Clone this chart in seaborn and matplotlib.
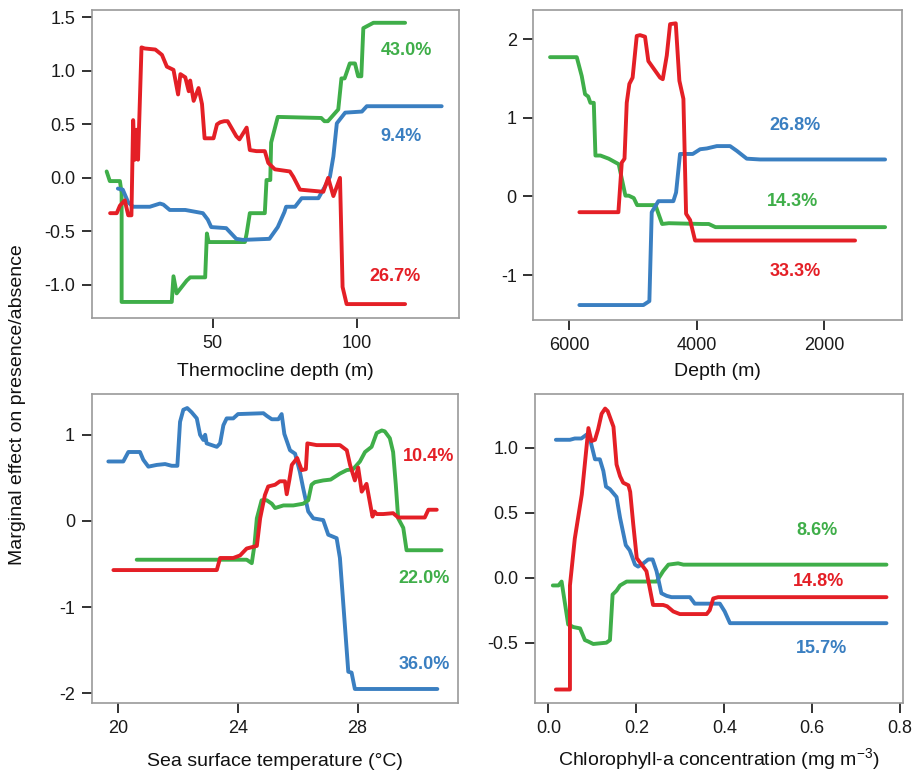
import numpy as np
import pandas as pd
import matplotlib
matplotlib.use("Agg")
import matplotlib.pyplot as plt
import seaborn as sns

# ---------------- data ----------------
# Panel 1: Thermocline depth (m)
thermo_green_x = [13.2, 14.3, 17.8, 18.4, 18.4, 35.8, 36.4, 37.5, 41.0, 42.2, 47.4, 48.0, 48.6, 61.2, 61.8, 62.9, 68.1, 68.7, 70.0, 70.3, 72.6, 87.7, 88.8, 90.0, 93.6, 94.7, 95.8, 97.6, 99.4, 100.5, 101.6, 102.3, 105.8, 116.8]
thermo_green_y = [0.06, -0.03, -0.03, -0.14, -1.16, -1.16, -0.92, -1.08, -0.96, -0.93, -0.93, -0.52, -0.60, -0.60, -0.52, -0.33, -0.33, -0.02, -0.02, 0.33, 0.57, 0.56, 0.53, 0.53, 0.64, 0.93, 0.93, 1.07, 1.07, 0.95, 0.95, 1.40, 1.45, 1.45]
thermo_blue_x = [17.1, 18.8, 20.7, 22.4, 28.2, 31.7, 32.9, 35.1, 40.5, 46.6, 48.3, 49.5, 54.7, 58.2, 60.5, 69.7, 72.6, 74.9, 75.5, 78.6, 80.9, 86.7, 89.0, 90.7, 91.9, 93.1, 96.0, 101.8, 103.5, 129.5]
thermo_blue_y = [-0.10, -0.11, -0.23, -0.27, -0.27, -0.24, -0.25, -0.30, -0.30, -0.33, -0.39, -0.46, -0.47, -0.57, -0.58, -0.57, -0.46, -0.32, -0.27, -0.27, -0.19, -0.19, -0.08, 0.01, 0.20, 0.51, 0.61, 0.62, 0.67, 0.67]
thermo_red_x = [14.4, 16.7, 17.8, 19.5, 20.7, 21.8, 22.4, 23.0, 23.6, 24.1, 25.3, 26.4, 30.1, 32.4, 34.1, 36.4, 38.0, 38.8, 40.5, 41.7, 42.2, 43.4, 45.1, 46.3, 47.2, 50.3, 51.5, 52.6, 54.0, 55.2, 58.2, 59.3, 61.8, 62.9, 65.2, 68.1, 69.3, 71.6, 76.8, 78.0, 80.3, 88.4, 90.1, 91.9, 94.2, 95.1, 96.5, 116.8]
thermo_red_y = [-0.33, -0.33, -0.26, -0.21, -0.35, -0.35, 0.54, 0.17, 0.45, 0.17, 1.22, 1.21, 1.20, 1.15, 1.04, 1.01, 0.78, 0.97, 0.94, 0.81, 0.91, 0.72, 0.84, 0.69, 0.37, 0.37, 0.50, 0.52, 0.53, 0.53, 0.39, 0.36, 0.47, 0.26, 0.25, 0.25, 0.14, 0.08, 0.06, 0.01, -0.11, -0.13, 0.00, -0.17, 0.00, -1.02, -1.18, -1.18]

# Panel 2: Depth (m)
depth_green_x = [6298, 5879, 5801, 5749, 5700, 5665, 5612, 5586, 5508, 5378, 5221, 5116, 5064, 4985, 4932, 4645, 4540, 4434, 3913, 3808, 3703, 1042]
depth_green_y = [1.77, 1.77, 1.53, 1.30, 1.27, 1.19, 1.19, 0.52, 0.52, 0.48, 0.41, 0.01, 0.01, -0.02, -0.11, -0.11, -0.35, -0.34, -0.35, -0.35, -0.39, -0.39]
depth_red_x = [5838, 5226, 5173, 5130, 5095, 5054, 5003, 4938, 4886, 4808, 4756, 4572, 4530, 4467, 4415, 4326, 4269, 4206, 4164, 4101, 4023, 3945, 1513]
depth_red_y = [-0.20, -0.20, 0.43, 0.48, 1.19, 1.43, 1.51, 2.04, 2.05, 2.03, 1.72, 1.51, 1.49, 1.79, 2.19, 2.20, 1.47, 1.24, -0.22, -0.30, -0.56, -0.56, -0.56]
depth_blue_x = [5838, 4834, 4740, 4703, 4599, 4364, 4321, 4259, 4059, 3944, 3839, 3682, 3474, 3369, 3212, 3003, 1042]
depth_blue_y = [-1.38, -1.38, -1.33, -0.20, -0.06, -0.06, 0.05, 0.54, 0.54, 0.60, 0.61, 0.64, 0.64, 0.58, 0.48, 0.47, 0.47]

# Panel 3: Sea surface temperature (°C)
sst_blue_x = [19.66, 20.16, 20.33, 20.72, 20.83, 21.00, 21.28, 21.56, 21.78, 21.97, 22.06, 22.17, 22.30, 22.45, 22.62, 22.73, 22.84, 22.90, 22.95, 23.12, 23.29, 23.40, 23.51, 23.62, 23.84, 24.00, 24.85, 24.96, 25.13, 25.35, 25.46, 25.55, 25.74, 25.91, 26.07, 26.18, 26.35, 26.52, 26.85, 27.02, 27.30, 27.41, 27.69, 27.80, 27.91, 30.67]
sst_blue_y = [0.69, 0.69, 0.80, 0.80, 0.71, 0.63, 0.65, 0.66, 0.64, 0.64, 1.15, 1.29, 1.31, 1.26, 1.19, 1.00, 0.94, 1.00, 0.90, 0.88, 0.86, 0.90, 1.11, 1.19, 1.19, 1.24, 1.25, 1.22, 1.18, 1.18, 1.24, 1.01, 0.82, 0.78, 0.57, 0.38, 0.11, 0.03, 0.01, -0.16, -0.20, -0.43, -1.75, -1.76, -1.95, -1.95]
sst_red_x = [19.83, 23.29, 23.40, 23.84, 24.07, 24.29, 24.51, 24.63, 24.74, 24.90, 25.01, 25.24, 25.40, 25.57, 25.63, 25.72, 25.80, 25.98, 26.13, 26.27, 26.32, 26.63, 27.41, 27.64, 27.75, 27.91, 28.02, 28.14, 28.30, 28.50, 28.57, 28.64, 28.86, 29.19, 29.36, 30.25, 30.37, 30.65]
sst_red_y = [-0.57, -0.57, -0.43, -0.43, -0.40, -0.32, -0.30, -0.29, 0.03, 0.30, 0.40, 0.42, 0.46, 0.46, 0.31, 0.48, 0.65, 0.73, 0.59, 0.60, 0.90, 0.88, 0.88, 0.82, 0.65, 0.47, 0.62, 0.34, 0.43, 0.05, 0.11, 0.08, 0.08, 0.09, 0.04, 0.04, 0.13, 0.13]
sst_green_x = [20.61, 24.29, 24.46, 24.55, 24.63, 24.79, 24.96, 25.13, 25.24, 25.52, 25.85, 26.18, 26.35, 26.46, 26.57, 26.85, 27.10, 27.41, 27.64, 27.85, 28.08, 28.25, 28.47, 28.64, 28.81, 28.91, 29.08, 29.19, 29.28, 29.36, 29.53, 29.64, 30.81]
sst_green_y = [-0.45, -0.45, -0.49, -0.28, 0.03, 0.24, 0.24, 0.20, 0.15, 0.18, 0.18, 0.20, 0.24, 0.42, 0.45, 0.47, 0.48, 0.55, 0.59, 0.60, 0.69, 0.80, 0.86, 1.02, 1.05, 1.04, 0.96, 0.80, 0.42, 0.03, -0.08, -0.34, -0.34]

# Panel 4: Chlorophyll-a concentration
chl_blue_x = [0.017, 0.049, 0.060, 0.075, 0.087, 0.095, 0.106, 0.117, 0.125, 0.131, 0.140, 0.155, 0.163, 0.176, 0.185, 0.197, 0.204, 0.216, 0.227, 0.237, 0.246, 0.257, 0.269, 0.280, 0.322, 0.333, 0.390, 0.401, 0.413, 0.769]
chl_blue_y = [1.06, 1.06, 1.07, 1.07, 1.10, 1.06, 0.91, 0.91, 0.82, 0.70, 0.68, 0.62, 0.46, 0.25, 0.21, 0.10, 0.085, 0.11, 0.14, 0.14, 0.05, -0.12, -0.14, -0.15, -0.15, -0.20, -0.20, -0.26, -0.35, -0.35]
chl_red_x = [0.017, 0.049, 0.049, 0.060, 0.076, 0.091, 0.098, 0.106, 0.113, 0.121, 0.129, 0.135, 0.148, 0.155, 0.163, 0.170, 0.182, 0.186, 0.193, 0.201, 0.212, 0.223, 0.238, 0.261, 0.270, 0.284, 0.299, 0.360, 0.367, 0.375, 0.386, 0.769]
chl_red_y = [-0.86, -0.86, -0.06, 0.30, 0.64, 1.15, 1.05, 1.06, 1.14, 1.26, 1.30, 1.28, 1.16, 0.87, 0.78, 0.73, 0.71, 0.66, 0.41, 0.15, 0.10, 0.05, -0.21, -0.21, -0.22, -0.26, -0.28, -0.28, -0.25, -0.16, -0.15, -0.15]
chl_green_x = [0.010, 0.023, 0.030, 0.045, 0.057, 0.072, 0.083, 0.090, 0.102, 0.132, 0.140, 0.146, 0.155, 0.163, 0.178, 0.200, 0.246, 0.261, 0.273, 0.295, 0.307, 0.769]
chl_green_y = [-0.06, -0.06, -0.03, -0.36, -0.38, -0.39, -0.48, -0.49, -0.51, -0.50, -0.48, -0.13, -0.10, -0.06, -0.03, -0.03, -0.03, 0.05, 0.10, 0.11, 0.10, 0.10]

# Percent labels
thermo_labels = ["43.0%", "9.4%", "26.7%"]
depth_labels = ["26.8%", "14.3%", "33.3%"]
sst_labels = ["10.4%", "22.0%", "36.0%"]
chl_labels = ["8.6%", "14.8%", "15.7%"]

x_titles = ["Thermocline depth (m)", "Depth (m)", "Sea surface temperature (°C)",
            "Chlorophyll-a concentration (mg m$^{-3}$)"]
y_title = "Marginal effect on presence/absence"

# ---------------- style ----------------
GREEN = "#3fae49"
BLUE = "#3a7fc1"
RED = "#e41f26"

sns.set_theme(style="white")
plt.rcParams["font.family"] = ["Liberation Sans", "DejaVu Sans"]
plt.rcParams["mathtext.fontset"] = "custom"
plt.rcParams["mathtext.rm"] = "Liberation Sans"

fig = plt.figure(figsize=(9.15, 7.72), dpi=100)

axes_rects = [
    [0.1005, 0.5881, 0.4011, 0.3990],
    [0.5829, 0.5855, 0.4026, 0.4016],
    [0.1001, 0.0890, 0.4004, 0.4003],
    [0.5847, 0.0890, 0.4019, 0.4003],
]
# baseline of each x title, in axes fraction
xlabel_y = [-0.188, -0.181, -0.203, -0.203]


def make_df(series):
    frames = []
    for name, xs, ys in series:
        frames.append(pd.DataFrame({"x": xs, "y": ys, "series": name,
                                    "order": np.arange(len(xs))}))
    return pd.concat(frames, ignore_index=True)


panels = [
    dict(series=[("green", thermo_green_x, thermo_green_y),
                 ("blue", thermo_blue_x, thermo_blue_y),
                 ("red", thermo_red_x, thermo_red_y)],
         xlim=(8.1, 135.5), ylim=(-1.31, 1.57),
         xticks=[50, 100], xtl=["50", "100"],
         yticks=[-1.0, -0.5, 0.0, 0.5, 1.0, 1.5], ytl=["-1.0", "-0.5", "0.0", "0.5", "1.0", "1.5"],
         labels=[(thermo_labels[0], GREEN, 0.857, 0.870),
                 (thermo_labels[1], BLUE, 0.841, 0.589),
                 (thermo_labels[2], RED, 0.826, 0.134)]),
    dict(series=[("green", depth_green_x, depth_green_y),
                 ("blue", depth_blue_x, depth_blue_y),
                 ("red", depth_red_x, depth_red_y)],
         xlim=(6560, 781), ylim=(-1.57, 2.37),
         xticks=[6000, 4000, 2000], xtl=["6000", "4000", "2000"],
         yticks=[-1, 0, 1, 2], ytl=["-1", "0", "1", "2"],
         labels=[(depth_labels[0], BLUE, 0.710, 0.626),
                 (depth_labels[1], GREEN, 0.704, 0.382),
                 (depth_labels[2], RED, 0.710, 0.156)]),
    dict(series=[("blue", sst_blue_x, sst_blue_y),
                 ("green", sst_green_x, sst_green_y),
                 ("red", sst_red_x, sst_red_y)],
         xlim=(19.10, 31.36), ylim=(-2.116, 1.47),
         xticks=[20, 24, 28], xtl=["20", "24", "28"],
         yticks=[-2, -1, 0, 1], ytl=["-2", "-1", "0", "1"],
         labels=[(sst_labels[0], RED, 0.921, 0.798),
                 (sst_labels[1], GREEN, 0.907, 0.404),
                 (sst_labels[2], BLUE, 0.907, 0.126)]),
    dict(series=[("green", chl_green_x, chl_green_y),
                 ("blue", chl_blue_x, chl_blue_y),
                 ("red", chl_red_x, chl_red_y)],
         xlim=(-0.0305, 0.806), ylim=(-0.966, 1.41),
         xticks=[0.0, 0.2, 0.4, 0.6, 0.8], xtl=["0.0", "0.2", "0.4", "0.6", "0.8"],
         yticks=[-0.5, 0.0, 0.5, 1.0], ytl=["-0.5", "0.0", "0.5", "1.0"],
         labels=[(chl_labels[0], GREEN, 0.768, 0.558),
                 (chl_labels[1], RED, 0.771, 0.395),
                 (chl_labels[2], BLUE, 0.778, 0.176)]),
]

palette = {"green": GREEN, "blue": BLUE, "red": RED}

for i, (rect, p) in enumerate(zip(axes_rects, panels)):
    ax = fig.add_axes(rect)
    df = make_df(p["series"])
    hue_order = [s[0] for s in p["series"]]
    sns.lineplot(data=df, x="x", y="y", hue="series", hue_order=hue_order,
                 palette=palette, estimator=None, sort=False, units="series",
                 legend=False, linewidth=2.8, ax=ax)
    ax.set_xlim(*p["xlim"])
    ax.set_ylim(*p["ylim"])
    ax.set_xticks(p["xticks"])
    ax.set_xticklabels(p["xtl"])
    ax.set_yticks(p["yticks"])
    ax.set_yticklabels(p["ytl"])
    ax.tick_params(axis="both", which="major", direction="out", length=7,
                   width=1.3, color="#222222", labelsize=13, pad=5,
                   labelcolor="#1a1a1a", bottom=True, left=True)
    for sp in ax.spines.values():
        sp.set_color("#9a9a9a")
        sp.set_linewidth(1.2)
    ax.set_xlabel(x_titles[i], fontsize=14, color="#111111", va="baseline")
    ax.xaxis.set_label_coords(0.5, xlabel_y[i])
    ax.set_ylabel("")
    for txt, col, fx, fy in p["labels"]:
        ax.text(fx, fy, txt, transform=ax.transAxes, color=col,
                fontsize=13, fontweight="bold", ha="center", va="center")

fig.text(18 / 915, 1 - 405 / 772, y_title, rotation=90, fontsize=14,
         ha="center", va="center", color="#111111")

fig.savefig("out.png", dpi=100)
